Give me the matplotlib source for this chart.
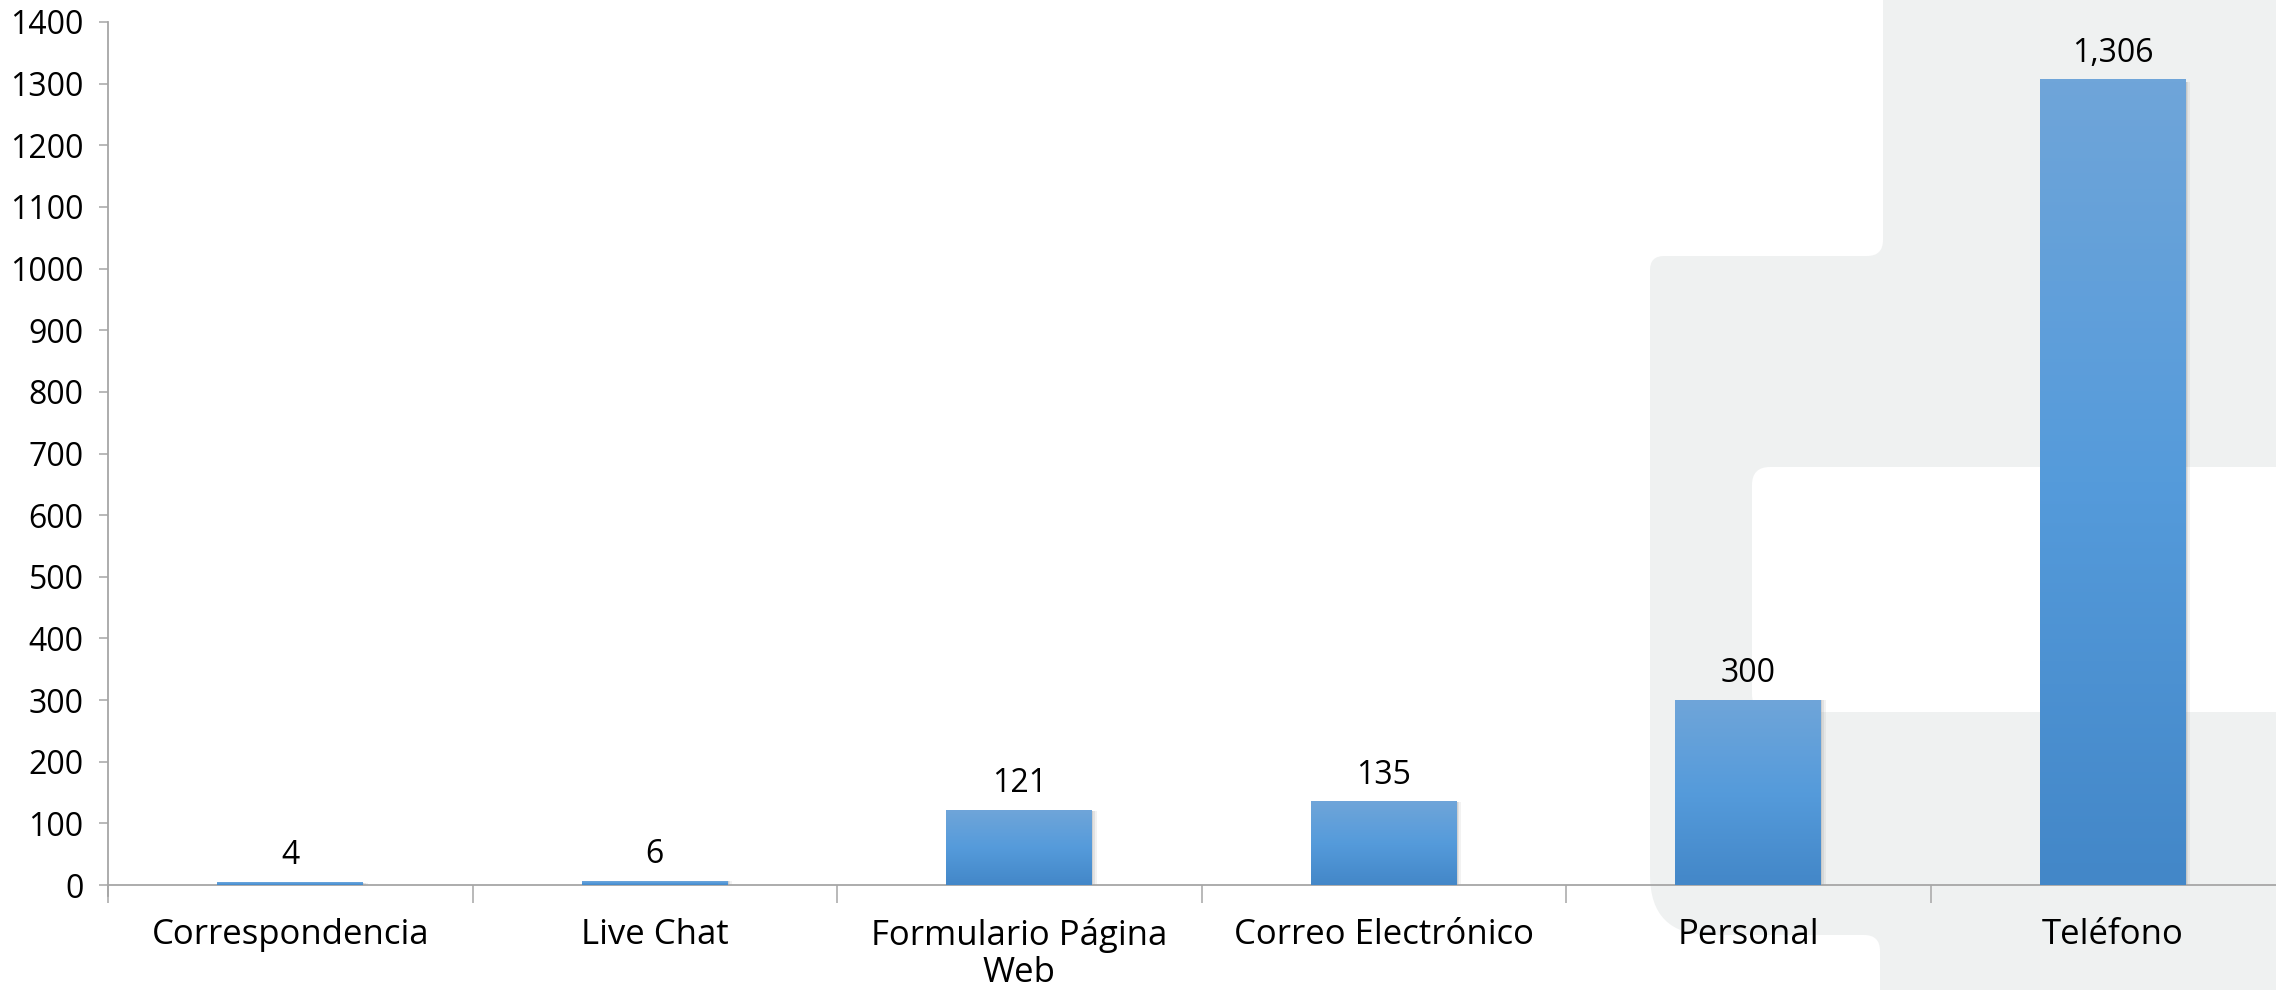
import numpy as np
import matplotlib.pyplot as plt
from matplotlib.patches import FancyBboxPatch, Rectangle
from matplotlib.colors import LinearSegmentedColormap

# Data
categories = ["Correspondencia", "Live Chat", "Formulario Página\nWeb",
              "Correo Electrónico", "Personal", "Teléfono"]
values = [4, 6, 121, 135, 300, 1306]
yticks = list(range(0, 1401, 100))

plt.rcParams['font.family'] = ['Open Sans', 'DejaVu Sans']

W, H = 2276, 990
fig = plt.figure(figsize=(W / 100, H / 100), dpi=100)

# Background decoration (pixel coordinates)
bg = fig.add_axes([0, 0, 1, 1], zorder=0)
bg.set_xlim(0, W)
bg.set_ylim(H, 0)
bg.axis("off")
gray = "#eff1f1"


def box(x0, y0, x1, y1, color, r):
    bg.add_patch(FancyBboxPatch((x0, y0), x1 - x0, y1 - y0,
                                boxstyle=f"round,pad=0,rounding_size={r}",
                                fc=color, ec="none"))


box(1860, -100, 2500, 280, gray, 1)
box(-100, -100, 1883, 256, "white", 16)
box(1650, 256, 2500, 700, gray, 14)
box(1650, 500, 2500, 935, gray, 60)
box(1860, 880, 2500, 1100, gray, 1)
box(-100, 935, 1880, 1100, "white", 16)
box(1752, 467, 2500, 712, "white", 18)

# Main chart
ax = fig.add_axes([108 / W, 1 - 885 / H, 2187 / W, 863 / H], zorder=1)
ax.set_facecolor("none")
x = np.arange(len(categories))
bars = ax.bar(x, values, width=0.40, color="#5599d9", zorder=2)

cmap = LinearSegmentedColormap.from_list("bar", ["#4387c8", "#559bdb", "#6fa5d9"])
grad = np.linspace(0, 1, 256).reshape(-1, 1)
for b in bars:
    bx, bw, bh = b.get_x(), b.get_width(), b.get_height()
    # soft shadow
    for k, a in [(0.012, 0.10), (0.007, 0.15), (0.003, 0.2)]:
        ax.add_patch(Rectangle((bx + k, -bh * 0.002), bw, bh, fc="#888888",
                               ec="none", alpha=a, zorder=1.5))
    ax.imshow(grad, extent=(bx, bx + bw, 0, bh), origin="lower", cmap=cmap,
              aspect="auto", zorder=3)
    ax.annotate(f"{int(bh):,}", (bx + bw / 2, bh), xytext=(0, 13),
                textcoords="offset points", ha="center", va="baseline",
                fontsize=23, color="black")

ax.set_xlim(-0.5, 5.5)
ax.set_ylim(0, 1400)
ax.set_yticks(yticks)
ax.tick_params(axis="y", labelsize=23, length=6.5, width=1.1, color="#a6a6a6", pad=11)
ax.set_xticks(x)
ax.set_xticklabels(categories, fontsize=25, linespacing=1.1)
ax.set_xticks(np.arange(-0.5, 6, 1), minor=True)
ax.tick_params(axis="x", which="major", length=0, pad=24)
ax.tick_params(axis="x", which="minor", length=13, width=1.1, color="#a6a6a6")
for s in ["top", "right"]:
    ax.spines[s].set_visible(False)
for s in ["left", "bottom"]:
    ax.spines[s].set_color("#a6a6a6")
    ax.spines[s].set_linewidth(1.3)
ax.spines["left"].set_bounds(-18, 1400)
ax.spines["left"].set_zorder(4)

fig.savefig("out.png", dpi=100)
